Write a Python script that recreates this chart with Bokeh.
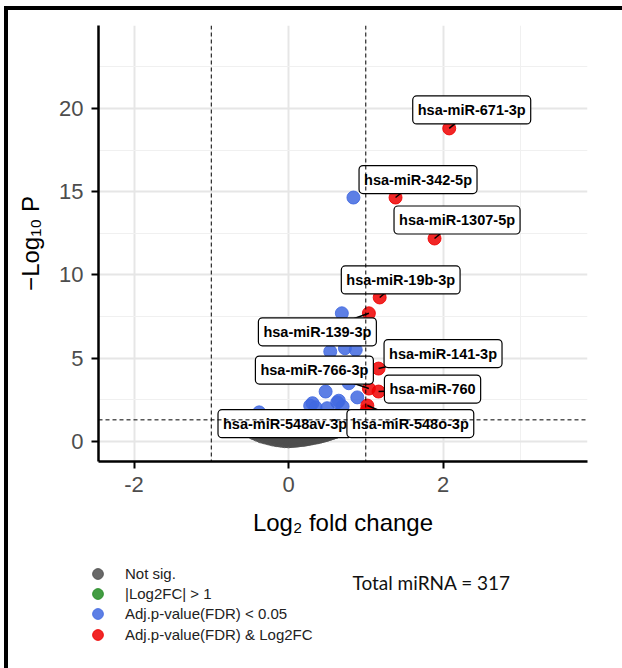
import math
import numpy as np
from bokeh.plotting import figure
from bokeh.layouts import column, row
from bokeh.models import (Span, Label, Legend, LegendItem, FixedTicker,
                          Range1d, Div, Spacer)
from bokeh.core.properties import value
from bokeh.embed import file_html
from bokeh.resources import INLINE

# ---------------- data ----------------
grey_x = [-0.05, 0.00, 0.04, -0.10, 0.08, 0.12, -0.15, 0.16, -0.20, 0.20,
          0.24, -0.25, 0.28, -0.30, 0.32, 0.36, -0.35, 0.40, -0.40, 0.44,
          0.48, -0.45, 0.52, -0.50, 0.56, 0.60, -0.54, 0.63, -0.57, 0.64,
          -0.02, 0.06, -0.12, 0.14, -0.20, 0.22, -0.28, 0.30, 0.00, -0.08,
          0.10, -0.35, 0.38, 0.18, -0.15, 0.02, -0.42, 0.46, 0.30, -0.25,
          0.55, -0.50, 0.10, -0.10, 0.40, -0.35, 0.60, 0.20, -0.55, 0.00,
          0.50, -0.20, -0.45, 0.30, 0.62, 0.12, -0.30]
grey_y = [0.02, 0.01, 0.03, 0.05, 0.04, 0.06, 0.08, 0.09, 0.12, 0.10,
          0.14, 0.18, 0.17, 0.24, 0.21, 0.24, 0.30, 0.28, 0.40, 0.33,
          0.38, 0.50, 0.44, 0.62, 0.50, 0.56, 0.75, 0.62, 0.88, 0.75,
          0.15, 0.20, 0.25, 0.30, 0.35, 0.40, 0.45, 0.50, 0.40, 0.50,
          0.55, 0.60, 0.60, 0.70, 0.70, 0.75, 0.80, 0.70, 0.85, 0.85,
          0.85, 0.95, 0.95, 1.00, 1.00, 1.05, 1.00, 1.10, 1.10, 1.15,
          1.15, 1.20, 1.22, 1.22, 1.20, 1.25, 1.25]

blue_x = [0.84, 0.69, 0.54, 0.73, 0.87, 0.78, 0.48, 0.65, 0.89, 0.31,
          0.28, 0.35, 0.70, 0.50, -0.38, 0.63]
blue_y = [14.65, 7.70, 5.40, 5.60, 5.50, 3.50, 3.00, 2.45, 2.65, 2.30,
          2.15, 2.05, 2.10, 2.00, 1.75, 2.35]

red_names = ["hsa-miR-671-3p", "hsa-miR-342-5p", "hsa-miR-1307-5p",
             "hsa-miR-19b-3p", "hsa-miR-139-3p", "hsa-miR-141-3p",
             "hsa-miR-766-3p", "hsa-miR-760", "hsa-miR-548av-3p",
             "hsa-miR-548o-3p"]
red_x = [2.08, 1.385, 1.89, 1.18, 1.04, 1.165, 1.04, 1.165, 1.01, 1.02]
red_y = [18.80, 14.65, 12.19, 8.65, 7.70, 4.38, 3.18, 3.00, 1.85, 2.16]

green_x = []
green_y = []

x_ticks = [-2, 0, 2]
x_tick_labels = ["-2", "0", "2"]
y_ticks = [0, 5, 10, 15, 20]
y_tick_labels = ["0", "5", "10", "15", "20"]
x_minor = [-1, 1, 3]
y_minor = [2.5, 7.5, 12.5, 17.5, 22.5]

fc_cutoff = 1.0
p_cutoff = 0.05

x_title = "Log\u2082 fold change"
y_title = "\u2212Log\u2081\u2080 P"
legend_labels = ["Not sig.", "|Log2FC| > 1", "Adj.p-value(FDR) < 0.05",
                 "Adj.p-value(FDR) & Log2FC"]
total_text = "Total miRNA = 317"

# ---------------- layout / style ----------------
# label box offsets (screen px, box centre relative to point; +y = down)
label_dx = [22.5, 22.5, 22.5, 21.0, -51.5, 64.5, -54.5, 54.0, -81.5, 43.0]
label_dy = [-18.5, -18.0, -18.5, -17.5, 18.5, -15.0, -18.5, -2.5, 13.0, 18.0]

W = 614
H1, H2 = 542, 116
ML, MT, MR, MB = 90, 15, 35, 91
X0, X1 = -2.46, 3.87
Y0, Y1 = -1.2, 24.98
FW = W - ML - MR
FH = H1 - MT - MB
PX = FW / (X1 - X0)
PY = FH / (Y1 - Y0)

SANS = "Liberation Sans"

C_GREY = "#4d4d4d"
C_GREEN = "#228b22"
C_BLUE = "#4169e1"
C_RED = "#ee0000"

p = figure(width=W, height=H1, output_backend="svg", toolbar_location=None,
           x_range=Range1d(X0, X1), y_range=Range1d(Y0, Y1),
           min_border_left=ML, min_border_right=MR, min_border_top=MT,
           min_border_bottom=MB)
p.frame_align = False
p.outline_line_color = None
p.background_fill_color = "white"
p.border_fill_color = "white"

xt = FixedTicker(ticks=x_ticks, minor_ticks=x_minor)
yt = FixedTicker(ticks=y_ticks, minor_ticks=y_minor)
p.xaxis.ticker = xt
p.yaxis.ticker = yt
p.xaxis.major_label_overrides = dict(zip(x_ticks, x_tick_labels))
p.yaxis.major_label_overrides = dict(zip(y_ticks, y_tick_labels))
for ax in (p.xaxis, p.yaxis):
    ax.axis_line_color = "black"
    ax.axis_line_width = 2.5
    ax.major_tick_line_color = "black"
    ax.major_tick_line_width = 2
    ax.major_tick_in = 0
    ax.major_tick_out = 7
    ax.minor_tick_line_color = None
    ax.major_label_text_font = SANS
    ax.major_label_text_font_size = "22px"
    ax.major_label_text_color = "#4d4d4d"
    ax.major_label_standoff = 8
    ax.axis_label_text_font = SANS
    ax.axis_label_text_font_size = "24px"
    ax.axis_label_text_font_style = "normal"
    ax.axis_label_text_color = "black"
p.xaxis.axis_label = x_title
p.yaxis.axis_label = y_title
p.xaxis.axis_label_standoff = 14
p.yaxis.axis_label_standoff = 12

for g in (p.xgrid, p.ygrid):
    g.grid_line_color = "#e6e6e6"
    g.grid_line_width = 2
    g.minor_grid_line_color = "#f0f0f0"
    g.minor_grid_line_width = 1

# threshold lines
for xv in (-fc_cutoff, fc_cutoff):
    p.add_layout(Span(location=xv, dimension="height", line_color="black",
                      line_width=1, line_dash="4 3"))
p.add_layout(Span(location=-math.log10(p_cutoff), dimension="width",
                  line_color="black", line_width=1, line_dash="4 3"))

# points
p.scatter(grey_x, grey_y, size=13, color=C_GREY, alpha=0.85)
p.scatter(green_x, green_y, size=13, color=C_GREEN, alpha=0.85)
p.scatter(blue_x, blue_y, size=13, color=C_BLUE, alpha=0.85)
p.scatter(red_x, red_y, size=13, color=C_RED, alpha=0.85)

# connector segments from point to label box edge
sx0, sy0, sx1, sy1 = [], [], [], []
for name, x, y, dx, dy in zip(red_names, red_x, red_y, label_dx, label_dy):
    hw = len(name) * 3.82 + 5
    hh = 12.5
    s = min(hw / abs(dx) if dx else 1e9, hh / abs(dy) if dy else 1e9)
    if s >= 1:
        continue
    ex, ey = dx * (1 - s), dy * (1 - s)
    sx0.append(x)
    sy0.append(y)
    sx1.append(x + ex / PX)
    sy1.append(y - ey / PY)
p.segment(sx0, sy0, sx1, sy1, line_color="black", line_width=1.5)

# label boxes
p.text(red_x, red_y, text=red_names, x_offset=label_dx, y_offset=label_dy,
       text_align="center", text_baseline="middle",
       text_font=value(SANS), text_font_style="bold",
       text_font_size="14.5px", text_color="black",
       background_fill_color="white", border_line_color="black",
       border_line_width=1.2, padding=(5, 6), border_radius=4)

# ---------------- legend panel (second figure below) ----------------
q = figure(width=W, height=H2, output_backend="svg", toolbar_location=None,
           x_range=Range1d(0, 1), y_range=Range1d(0, 1),
           min_border=0, min_border_left=0, min_border_right=0,
           min_border_top=0, min_border_bottom=0)
q.frame_align = False
q.axis.visible = False
q.grid.visible = False
q.outline_line_color = None
q.background_fill_color = "white"
q.border_fill_color = "white"

# one single-item legend per row, so the key dots can be large while
# the rows stay tightly spaced
GLYPH = 27
ROW_BOTTOMS = [81.5, 61.5, 41.5, 20.5]
for t, c, vy in zip(legend_labels, (C_GREY, C_GREEN, C_BLUE, C_RED), ROW_BOTTOMS):
    r = q.scatter(np.array([np.nan]), np.array([np.nan]), size=11, color=c,
                  alpha=0.85)
    lgd = Legend(items=[LegendItem(label=t, renderers=[r])], location=(76, vy))
    lgd.glyph_width = GLYPH
    lgd.glyph_height = GLYPH
    lgd.label_height = GLYPH
    lgd.spacing = 0
    lgd.padding = 0
    lgd.margin = 0
    lgd.label_standoff = 14
    lgd.label_text_font = SANS
    lgd.label_text_font_size = "15px"
    lgd.label_text_color = "#222222"
    lgd.background_fill_alpha = 0
    lgd.border_line_alpha = 0
    q.add_layout(lgd, "center")

q.add_layout(Label(x=344, y=86, x_units="screen", y_units="screen",
                   text=total_text, text_font="Lato", text_font_size="19px",
                   text_align="left", text_baseline="alphabetic",
                   text_color="#111111"))

# ---------------- thick frame (top and left edges) ----------------
top_bar = Div(text="", width=618, height=4, margin=0,
              styles={"background-color": "black"})
left_bar = Div(text="", width=4, height=H1 + H2, margin=0,
               styles={"background-color": "black"})

layout = column(
    Spacer(width=622, height=6),
    row(Spacer(width=4, height=H1 + H2 + 4),
        column(top_bar, row(left_bar, column(p, q)))),
)

open("out.html", "w").write(file_html(layout, INLINE))
